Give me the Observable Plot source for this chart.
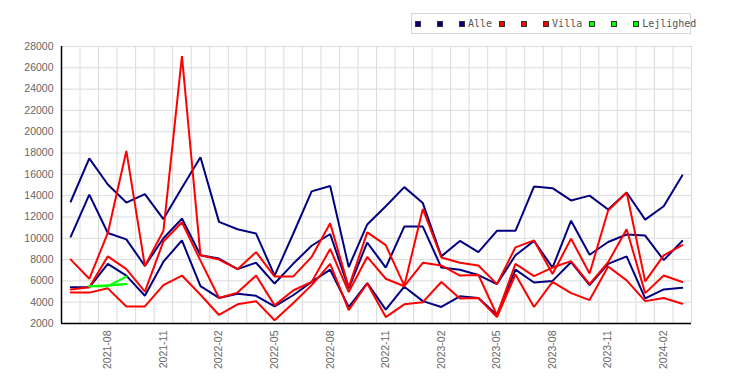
<!DOCTYPE html>
<html><head><meta charset="utf-8">
<script src="https://cdn.jsdelivr.net/npm/d3@7"></script>
<script src="https://cdn.jsdelivr.net/npm/@observablehq/plot@0.6"></script>
<style>
body{margin:0;background:#fff}
#wrap{position:relative;width:750px;height:385px;overflow:hidden}
#chart{position:absolute;left:0;top:0}
#legend{position:absolute;left:411px;top:13px;width:280px;height:21px;border:1px solid #d6d6d6;box-sizing:border-box;font:10px "DejaVu Sans Mono",monospace;color:#555;display:flex;align-items:center;padding-left:3px;white-space:nowrap;overflow:visible}
.grp{display:flex;align-items:center;margin-right:7px}
.sq{width:4px;height:4px;border:1px solid #333;margin-right:16px}
.sq.last{margin-right:3px}
</style>
</head><body>
<div id="wrap"><div id="chart"></div><div id="legend"></div></div>
<script>
const months = ["2021-06","2021-07","2021-08","2021-09","2021-10","2021-11","2021-12",
  "2022-01","2022-02","2022-03","2022-04","2022-05","2022-06","2022-07","2022-08","2022-09","2022-10","2022-11","2022-12",
  "2023-01","2023-02","2023-03","2023-04","2023-05","2023-06","2023-07","2023-08","2023-09","2023-10","2023-11","2023-12",
  "2024-01","2024-02","2024-03"];
const tickLabels = ["2021-08","2021-11","2022-02","2022-05","2022-08","2022-11","2023-02","2023-05","2023-08","2023-11","2024-02"];
const yTicks = [2000,4000,6000,8000,10000,12000,14000,16000,18000,20000,22000,24000,26000,28000];

// Alle (navy)
const alle1 = [13450,17500,15050,13350,14150,11800,14750,17600,11540,10850,10440,6500,10400,14400,14900,7300,11300,13000,14800,13300,8300,9750,8700,10700,10700,14850,14700,13550,14000,12700,14300,11750,13000,15900];
const alle2 = [10150,14100,10500,9900,7400,10000,11850,8400,8100,7100,7700,5750,7600,9300,10400,5300,9600,7250,11100,11100,7250,7050,6550,5700,8400,9750,7250,11650,8450,9650,10350,10250,7950,9750];
const alle3 = [5400,5400,7600,6500,4600,7800,9800,5500,4400,4800,4600,3600,4650,5900,7050,3550,5800,3300,5450,4100,3550,4550,4400,2800,7050,5850,6000,7750,5600,7600,8300,4350,5200,5350];
// Villa (red)
const villa1 = [8000,6200,10500,18200,7400,10700,27100,8400,8000,7100,8700,6400,6400,8250,11400,5400,10550,9350,5550,12750,8200,7700,7450,5700,9150,9800,6650,9950,6700,12600,14300,5950,8400,9350];
const villa2 = [5200,5400,8300,7100,5000,9700,11500,7900,4400,4900,6500,3700,5100,5900,9000,4950,8250,6200,5500,7700,7450,6500,6550,2800,7600,6450,7250,7850,5700,7750,10850,4850,6500,5900];
const villa3 = [4900,4900,5300,3600,3600,5600,6500,4700,2800,3800,4100,2300,3900,5600,7600,3250,5750,2600,3800,4000,5900,4350,4400,2600,6600,3550,5900,4850,4200,7350,6050,4100,4400,3850];
// Lejlighed (green) – only reported for three months
const lejMonths = ["2021-07","2021-08","2021-09"];
const lej1 = [5500,5500,6400];
const lej2 = [5500,5600,5700];
const lej3 = [5500,5550,5700];

const categories = ["Alle","Villa","Lejlighed"];
const colors = ["#000080","#ff0000","#00ff00"];

const series = [
  {cat:0, key:"alle1", m:months, v:alle1},
  {cat:0, key:"alle2", m:months, v:alle2},
  {cat:0, key:"alle3", m:months, v:alle3},
  {cat:1, key:"villa1", m:months, v:villa1},
  {cat:1, key:"villa2", m:months, v:villa2},
  {cat:1, key:"villa3", m:months, v:villa3},
  {cat:2, key:"lej1", m:lejMonths, v:lej1},
  {cat:2, key:"lej2", m:lejMonths, v:lej2},
  {cat:2, key:"lej3", m:lejMonths, v:lej3}
];
const rows = [];
for (const s of series) s.v.forEach((v, j) => rows.push({key: s.key, i: months.indexOf(s.m[j]), v, color: colors[s.cat]}));

const boundaries = months.map((_, i) => i + 0.5);
const tickIdx = tickLabels.map(t => months.indexOf(t));

const plot = Plot.plot({
  width: 750, height: 385,
  marginLeft: 61, marginRight: 59, marginTop: 46, marginBottom: 62,
  style: {fontFamily: "'Liberation Sans', Arial, sans-serif", fontSize: "10.5px", color: "#666", background: "white", overflow: "visible"},
  x: {type: "linear", domain: [-0.5, months.length - 0.5], label: null},
  y: {domain: [yTicks[0], yTicks[yTicks.length - 1]], label: null},
  color: {type: "identity"},
  marks: [
    Plot.ruleX(boundaries, {stroke: "#dcdcdc", strokeWidth: 1}),
    Plot.ruleY(yTicks, {stroke: "#dcdcdc", strokeWidth: 1}),
    Plot.axisY({ticks: yTicks, tickSize: 0, tickPadding: 8, tickFormat: d => String(d), fill: "#666", label: null}),
    Plot.axisX({ticks: tickIdx, tickFormat: i => months[i], tickSize: 0, tickPadding: 7, tickRotate: -90, fill: "#666", label: null}),
    Plot.line(rows, {x: "i", y: "v", z: "key", stroke: "color", strokeWidth: 2, strokeLinejoin: "miter"}),
    Plot.ruleX([-0.5], {stroke: "#000", strokeWidth: 1.5}),
    Plot.ruleY([yTicks[0]], {stroke: "#000", strokeWidth: 1.5})
  ]
});
document.getElementById("chart").appendChild(plot);

const legend = document.getElementById("legend");
categories.forEach((c, k) => {
  const g = document.createElement("div");
  g.className = "grp";
  for (let j = 0; j < 3; j++) {
    const sq = document.createElement("div");
    sq.className = "sq" + (j === 2 ? " last" : "");
    sq.style.background = colors[k];
    g.appendChild(sq);
  }
  const t = document.createElement("span");
  t.textContent = c;
  g.appendChild(t);
  legend.appendChild(g);
});
</script>
</body></html>
